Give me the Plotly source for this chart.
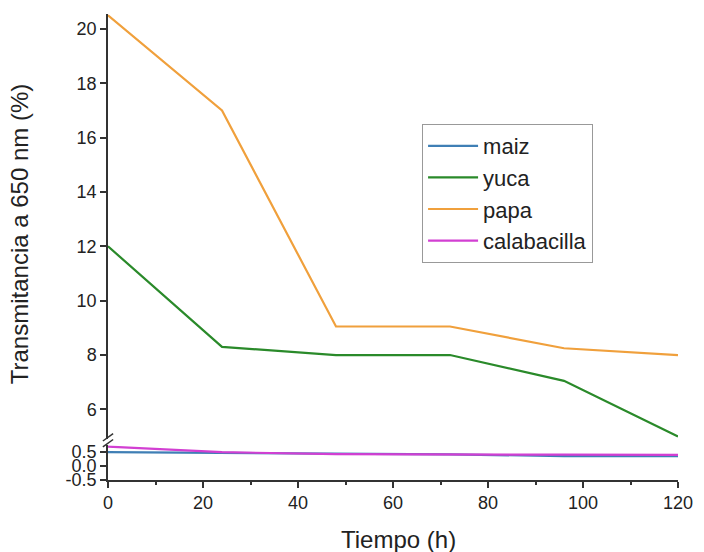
import plotly.graph_objects as go

tiempo = [0, 24, 48, 72, 96, 120]
maiz = [0.50, 0.47, 0.43, 0.42, 0.36, 0.36]
yuca = [12.0, 8.3, 8.0, 8.0, 7.05, 5.0]
papa = [20.5, 17.0, 9.05, 9.05, 8.25, 8.0]
calabacilla = [0.70, 0.50, 0.43, 0.43, 0.41, 0.40]

series = [
    ("maiz", maiz, "#3f7fb5"),
    ("yuca", yuca, "#2a8a2a"),
    ("papa", papa, "#f0a03c"),
    ("calabacilla", calabacilla, "#d23fd2"),
]
low_names = {"maiz", "calabacilla"}

FONT = "Liberation Sans, Arial, sans-serif"
AX = "#333333"
TXT = "#222222"

fig = go.Figure()
for name, vals, col in series:
    fig.add_trace(go.Scatter(
        x=tiempo, y=vals, name=name, mode="lines",
        line=dict(color=col, width=2.2),
        yaxis="y" if name in low_names else "y2",
    ))

H = 469.0
fig.update_layout(
    width=704, height=552,
    margin=dict(l=108, r=16, t=11, b=72),
    paper_bgcolor="white", plot_bgcolor="white",
    font=dict(family=FONT, size=18, color=TXT),
    showlegend=True,
    legend=dict(
        x=0.551, y=0.764, xanchor="left", yanchor="top",
        bgcolor="white", bordercolor="#999999", borderwidth=1,
        font=dict(size=22, family=FONT, color=TXT),
        tracegroupgap=0, itemwidth=50,
    ),
    xaxis=dict(
        range=[0, 120], tickvals=[0, 20, 40, 60, 80, 100, 120],
        showline=True, linecolor=AX, linewidth=1.5, mirror=False,
        ticks="outside", ticklen=6, tickcolor=AX, tickwidth=1.5,
        minor=dict(tickvals=[10, 30, 50, 70, 90, 110], ticks="outside", ticklen=3, tickcolor=AX),
        showgrid=False, zeroline=False,
        tickfont=dict(size=18),
        anchor="y",
    ),
    yaxis=dict(
        domain=[0, 35 / H], range=[-0.5, 0.75],
        tickvals=[-0.5, 0.0, 0.5], ticktext=["-0.5", "0.0", "0.5"],
        showline=True, linecolor=AX, linewidth=1.5,
        ticks="outside", ticklen=6, tickcolor=AX, tickwidth=1.5,
        showgrid=False, zeroline=False, tickfont=dict(size=18),
    ),
    yaxis2=dict(
        domain=[41 / H, 1], range=[4.9, 20.55],
        tickvals=[6, 8, 10, 12, 14, 16, 18, 20],
        showline=True, linecolor=AX, linewidth=1.5,
        ticks="outside", ticklen=6, tickcolor=AX, tickwidth=1.5,
        showgrid=False, zeroline=False, tickfont=dict(size=18),
        anchor="x",
    ),
)

# axis break marks
for yc in [37 / H, 43 / H]:
    fig.add_shape(type="line", xref="paper", yref="paper",
                  x0=-0.009, x1=0.009, y0=yc - 0.008, y1=yc + 0.008,
                  line=dict(color=AX, width=1.5))

fig.add_annotation(
    text="Transmitancia a 650 nm (%)", textangle=-90,
    xref="paper", yref="paper", x=-0.155, y=(480 - 232) / H,
    xanchor="center", yanchor="middle", showarrow=False,
    font=dict(size=24, family=FONT, color=TXT),
)
fig.add_annotation(
    text="Tiempo (h)",
    xref="paper", yref="paper", x=(404 - 108) / 580, y=(480 - 540) / H,
    xanchor="center", yanchor="middle", showarrow=False,
    font=dict(size=24, family=FONT, color=TXT),
)

fig.write_html("out.html")
